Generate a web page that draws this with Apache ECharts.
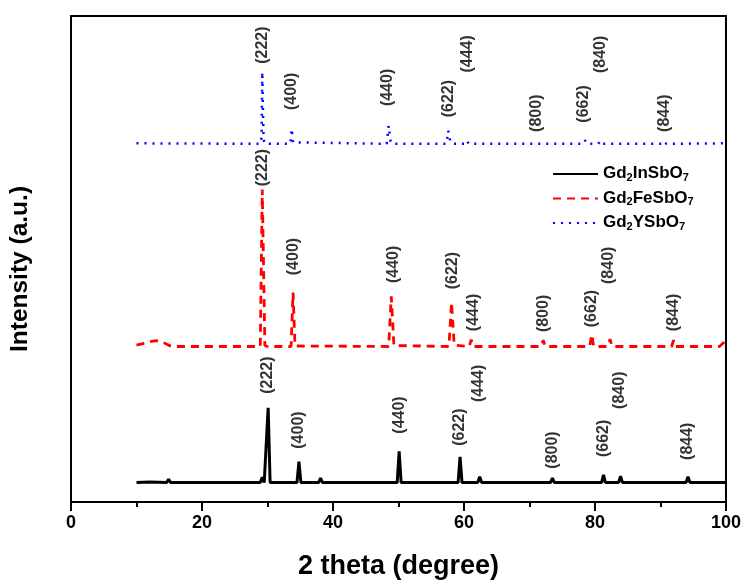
<!DOCTYPE html>
<html lang="en">
<head>
    <meta charset="utf-8"/>
    <title>XRD</title>
    <script src="https://cdn.jsdelivr.net/npm/echarts@6/dist/echarts.min.js"></script>
    <style>
        html, body {margin: 0; padding: 0; background: #fff;}
        #xrd {width: 744px; height: 585px;}
    </style>
</head>
<body>
<div id="xrd"></div>
<script>
    // sample names (digits become subscripts in the legend)
    var names = ['Gd2InSbO7', 'Gd2FeSbO7', 'Gd2YSbO7'];
    var xTicks = [0, 20, 40, 60, 80, 100];

    // patterns: [2 theta, intensity (offset, a.u.)]
    var inSbO = [[10, 4.0], [12, 4.1], [14.6, 4.0], [14.9, 4.7], [15.2, 4.0], [28.9, 4.0], [29.2, 5.1], [29.5, 4.0],
        [29.8, 4.0], [30.1, 19.4], [30.4, 4.0], [32.8, 4.0], [33.0, 4.4], [33.2, 4.0], [34.5, 4.0], [34.8, 8.3],
        [35.1, 4.0], [37.8, 4.0], [38.1, 4.9], [38.4, 4.0], [48.3, 4.0], [48.5, 4.2], [48.7, 4.0], [49.8, 4.0],
        [50.1, 10.4], [50.4, 4.0], [52.6, 4.0], [52.8, 4.3], [53.0, 4.0], [57.3, 4.0], [57.5, 4.2], [57.7, 4.0],
        [59.1, 4.0], [59.4, 9.3], [59.7, 4.0], [62.1, 4.0], [62.4, 5.2], [62.7, 4.0], [73.2, 4.0], [73.5, 4.9],
        [73.8, 4.0], [81.0, 4.0], [81.3, 5.6], [81.6, 4.0], [83.6, 4.0], [83.9, 5.3], [84.2, 4.0], [93.9, 4.0],
        [94.2, 5.2], [94.5, 4.0], [100, 4.0]];
    var feSbO = [[10, 32.3], [11, 32.6], [12, 33.0], [13, 33.2], [14, 32.9], [15, 32.2], [16, 32.0], [28.9, 32.0],
        [29.2, 64.3], [29.6, 32.2], [30, 32.0], [33.6, 32.0], [33.9, 43.1], [34.2, 32.1], [48.5, 32.0], [48.9, 42.3],
        [49.3, 32.2], [57.7, 32.0], [58.1, 41.1], [58.5, 32.3], [60.8, 32.0], [61.1, 33.4], [61.4, 32.0],
        [71.8, 32.0], [72.1, 33.3], [72.4, 32.0], [79.2, 32.0], [79.5, 34.5], [79.8, 32.0], [82.0, 32.0],
        [82.3, 33.5], [82.6, 32.0], [91.7, 32.0], [92.0, 33.3], [92.3, 32.0], [99, 32.0], [99.5, 32.6], [100, 33.2]];
    var ySbO = [[10, 73.8], [28.9, 73.7], [29.1, 75.0], [29.2, 88.5], [29.4, 74.5], [29.6, 73.7], [33.5, 73.7],
        [33.7, 76.8], [33.9, 74.0], [34.1, 73.7], [48.2, 73.7], [48.5, 77.4], [48.8, 74.2], [49.0, 73.7],
        [57.3, 73.7], [57.6, 76.4], [57.9, 74.2], [58.2, 73.7], [60.3, 73.7], [60.5, 74.3], [60.7, 73.7],
        [78.2, 73.7], [78.5, 74.4], [78.8, 73.7], [80.5, 73.7], [80.8, 74.3], [81.1, 73.7], [90.3, 73.7],
        [90.6, 74.2], [90.9, 73.7], [100, 73.8]];

    // peak indices and where their labels sit
    var hkl = ['(222)', '(400)', '(440)', '(622)', '(444)', '(800)', '(662)', '(840)', '(844)'];
    var inLabelX = [30.0, 34.8, 50.1, 59.4, 62.3, 73.5, 81.3, 83.8, 94.2];
    var inLabelY = [26.1, 14.8, 17.9, 15.4, 24.4, 10.7, 13.1, 23.0, 12.5];
    var feLabelX = [29.3, 34.0, 49.2, 58.3, 61.4, 72.1, 79.5, 82.1, 92.0];
    var feLabelY = [68.8, 50.5, 48.9, 47.6, 39.0, 38.8, 39.8, 48.7, 39.0];
    var yLabelX = [29.2, 33.7, 48.4, 57.6, 60.6, 71.1, 78.2, 80.8, 90.6];
    var yLabelY = [94.0, 84.5, 85.3, 83.0, 92.2, 80.0, 81.9, 92.1, 80.0];

    var font = "'Liberation Sans', Arial, sans-serif";

    function labelData(xs, ys) {
        var out = [];
        for (var i = 0; i < hkl.length; i++) {
            out.push({name: hkl[i], value: [xs[i], ys[i]]});
        }
        return out;
    }

    function labelSeries(xs, ys) {
        return {
            type: 'scatter',
            symbolSize: 1,
            silent: true,
            itemStyle: {color: 'rgba(0,0,0,0)'},
            label: {
                show: true,
                position: 'inside',
                rotate: 90,
                formatter: '{b}',
                color: '#000',
                fontFamily: font,
                fontWeight: 'bold',
                fontSize: 16
            },
            data: labelData(xs, ys),
            z: 5
        };
    }

    // Gd2InSbO7 -> {n|Gd}{s|2}{n|InSbO}{s|7}
    function subName(name) {
        return name.replace(/(\d+)|(\D+)/g, function (m, d, t) {
            return d ? '{s|' + d + '}' : '{n|' + t + '}';
        });
    }

    var myChart = echarts.init(document.getElementById('xrd'));
    var option = {
        animation: false,
        backgroundColor: '#fff',
        grid: {
            left: 71, right: 18, top: 16, bottom: 82,
            show: true, borderColor: '#000', borderWidth: 2
        },
        legend: {
            orient: 'vertical',
            left: 547,
            top: 155,
            itemWidth: 45,
            itemHeight: 14,
            itemGap: 1.5,
            data: names,
            formatter: subName,
            itemStyle: {opacity: 0},
            textStyle: {
                rich: {
                    n: {fontFamily: font, fontWeight: 'bold', fontSize: 17, color: '#000', lineHeight: 18, verticalAlign: 'top'},
                    s: {fontFamily: font, fontWeight: 'bold', fontSize: 11, color: '#000', lineHeight: 11, padding: [12, 0, 0, 0], verticalAlign: 'bottom'}
                }
            }
        },
        xAxis: {
            type: 'value',
            min: xTicks[0],
            max: xTicks[xTicks.length - 1],
            interval: 20,
            name: '2 theta (degree)',
            nameLocation: 'middle',
            nameGap: 51,
            nameTextStyle: {fontFamily: font, fontWeight: 'bold', fontSize: 27, color: '#000'},
            axisLine: {lineStyle: {color: '#000', width: 2}},
            axisTick: {show: true, inside: false, length: 9, lineStyle: {color: '#000', width: 2}},
            minorTick: {show: true, splitNumber: 2, length: 5, lineStyle: {color: '#000', width: 2}},
            splitLine: {show: false},
            axisLabel: {fontFamily: font, fontWeight: 'bold', fontSize: 18, color: '#000', margin: 12}
        },
        yAxis: {
            type: 'value',
            min: 0,
            max: 100,
            name: 'Intensity (a.u.)',
            nameLocation: 'middle',
            nameGap: 38,
            nameTextStyle: {fontFamily: font, fontWeight: 'bold', fontSize: 24.5, color: '#000', padding: [0, 20, 0, 0]},
            axisLine: {show: true, lineStyle: {color: '#000', width: 2}},
            axisTick: {show: false},
            axisLabel: {show: false},
            splitLine: {show: false}
        },
        series: [
            {
                name: names[0], type: 'line', symbol: 'none', data: inSbO,
                lineStyle: {color: '#000', width: 3}, itemStyle: {color: '#000'}, z: 3
            },
            {
                name: names[1], type: 'line', symbol: 'none', data: feSbO,
                lineStyle: {color: '#ff0000', width: 2.8, type: [8, 6]}, itemStyle: {color: '#ff0000'}, z: 3
            },
            {
                name: names[2], type: 'line', symbol: 'none', data: ySbO,
                lineStyle: {color: '#0000ff', width: 2.5, type: [2, 6]}, itemStyle: {color: '#0000ff'}, z: 3
            },
            labelSeries(inLabelX, inLabelY),
            labelSeries(feLabelX, feLabelY),
            labelSeries(yLabelX, yLabelY)
        ]
    };
    myChart.setOption(option);
</script>
</body>
</html>
